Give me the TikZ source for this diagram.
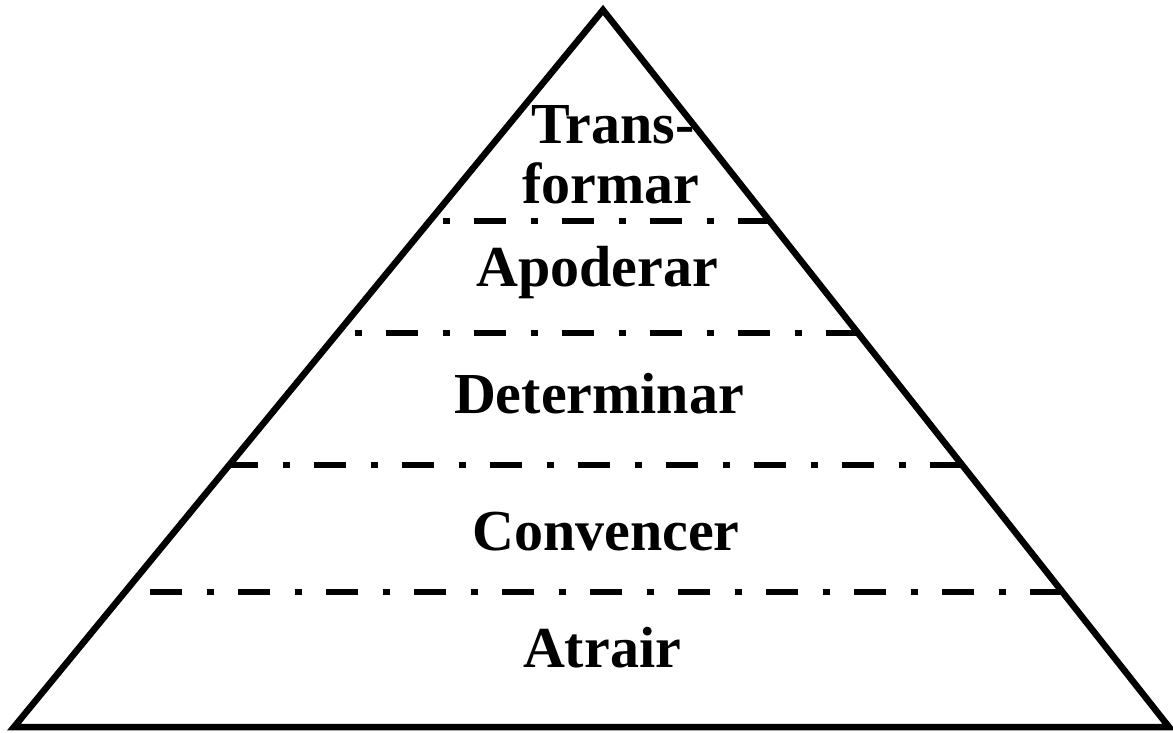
\documentclass[tikz,border=0pt]{standalone}
\usepackage{fontspec}
\setmainfont{Liberation Serif}
\usetikzlibrary{calc}

\begin{document}
\begin{tikzpicture}[x=1pt, y=-1pt, line width=6.5pt,
  nivel/.style={font=\fontsize{58}{60}\selectfont\bfseries, anchor=base, inner sep=0pt},
  divisa/.style={line width=6.5pt, dash pattern=on 32pt off 24pt on 7pt off 25pt}]
  \useasboundingbox (0,0) rectangle (1173,732);
  \coordinate (V) at (603,10);
  \coordinate (E) at (14,727);
  \coordinate (D) at (1169,727);

  \draw (V) -- (E) -- (D) -- cycle;

  % divisas entre os niveis (da direita para a esquerda)
  \foreach \y/\n in {221/1, 333/2, 465/3, 592/4} {
    \coordinate (e\n) at ($(V)!{(\y-10)/717}!(E)$);
    \coordinate (d\n) at ($(V)!{(\y-10)/717}!(D)$);
    \draw[divisa] (d\n) -- (e\n);
  }

  % texto cortado no alto
  \node[nivel, anchor=base west] (corte) at (826,-16) {p};

  \node[nivel] (trans)      at (613,143) {Trans-};
  \node[nivel] (formar)     at (611,203) {formar};
  \node[nivel] (apoderar)   at (597,286) {Apoderar};
  \node[nivel] (determinar) at (599,413) {Determinar};
  \node[nivel] (convencer)  at (606,550) {Convencer};
  \node[nivel] (atrair)     at (602,667) {Atrair};
\end{tikzpicture}
\end{document}
